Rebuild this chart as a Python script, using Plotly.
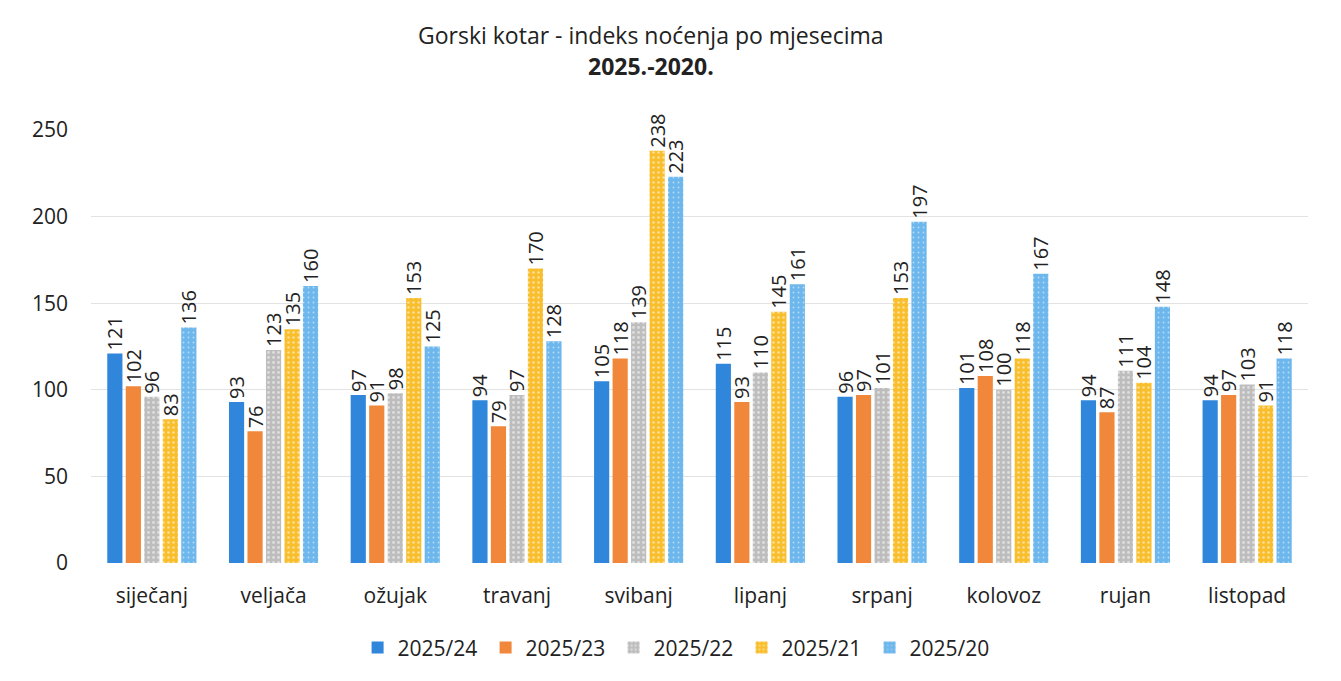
import plotly.graph_objects as go

months = ["siječanj", "veljača", "ožujak", "travanj", "svibanj", "lipanj",
          "srpanj", "kolovoz", "rujan", "listopad"]
series_names = ["2025/24", "2025/23", "2025/22", "2025/21", "2025/20"]
v_24 = [121, 93, 97, 94, 105, 115, 96, 101, 94, 94]
v_23 = [102, 76, 91, 79, 118, 93, 97, 108, 87, 97]
v_22 = [96, 123, 98, 97, 139, 110, 101, 100, 111, 103]
v_21 = [83, 135, 153, 170, 238, 145, 153, 118, 104, 91]
v_20 = [136, 160, 125, 128, 223, 161, 197, 167, 148, 118]
title_line1 = "Gorski kotar - indeks noćenja po mjesecima"
title_line2 = "2025.-2020."

series_values = [v_24, v_23, v_22, v_21, v_20]
colors = ["#2F86DB", "#F0873A", "#BDBDBD", "#F8BE2C", "#6DB7EC"]
patterns = ["", "", ".", ".", "."]
solid = [0.3, 0.3, 0.25, 0.2, 0.1]

fig = go.Figure()
for name, vals, col, pat, s in zip(series_names, series_values, colors, patterns, solid):
    fig.add_trace(go.Bar(
        x=months, y=vals, name=name,
        marker=dict(color=col, line=dict(width=0),
                    pattern=dict(shape=pat, fgcolor="#FFFFFF", size=5, solidity=s)),
        text=[str(v) for v in vals], textposition="outside", textangle=-90,
        constraintext="none",
        textfont=dict(size=20, color="#222222"), cliponaxis=False,
    ))

fig.add_annotation(text=title_line1, xref="paper", yref="paper", x=0.4602, y=1.2194,
                   xanchor="center", yanchor="middle", showarrow=False,
                   font=dict(size=23, color="#222222"))
fig.add_annotation(text="<b>" + title_line2 + "</b>", xref="paper", yref="paper",
                   x=0.4602, y=1.1478, xanchor="center", yanchor="middle",
                   showarrow=False, font=dict(size=23, color="#222222"))

fig.update_layout(
    width=1341, height=681,
    paper_bgcolor="white", plot_bgcolor="white",
    font=dict(family="Open Sans, Liberation Sans, sans-serif", color="#333333"),
    barmode="group", bargap=0.24, bargroupgap=0.18,
    margin=dict(l=83, r=41, t=122, b=126, autoexpand=False),
    legend=dict(orientation="h", x=0.482, xanchor="center", y=-0.196, yanchor="middle",
                font=dict(size=21, color="#222222"), entrywidth=83,
                entrywidthmode="pixels"),
    showlegend=True,
)
fig.update_yaxes(range=[0, 250], dtick=50, showgrid=True, gridcolor="#E3E3E3",
                 zeroline=False, tickfont=dict(size=21, color="#222222"), ticks="",
                 ticklabelstandoff=22, automargin=False)
fig.update_xaxes(showline=False, tickfont=dict(size=21, color="#222222"), ticks="",
                 ticklabelstandoff=18, automargin=False)

fig.write_html("out.html")
